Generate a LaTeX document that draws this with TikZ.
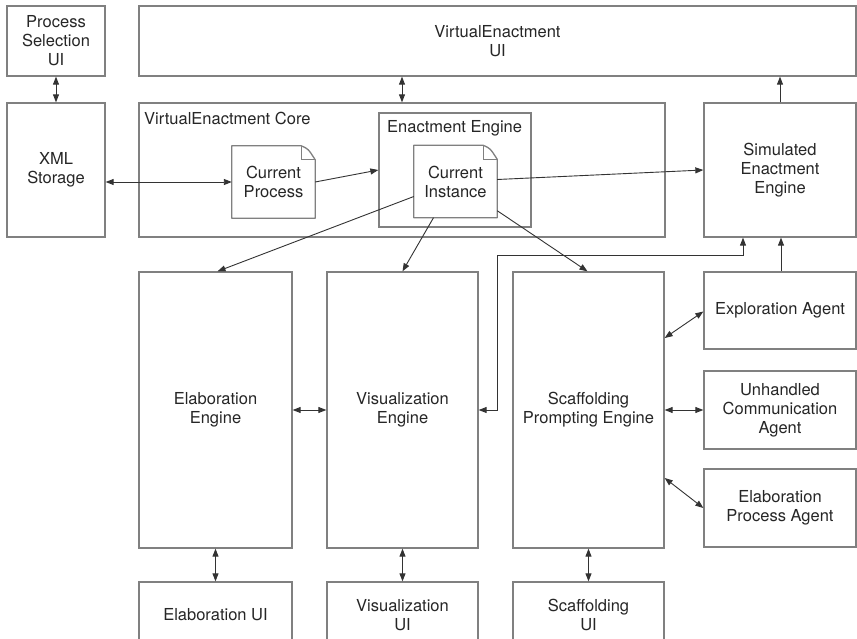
\documentclass[tikz,border=0pt]{standalone}
\usepackage{fontspec}
\setmainfont{TeX Gyre Heros}
\usetikzlibrary{arrows.meta,calc}
\begin{document}
\begin{tikzpicture}[x=1pt,y=-1pt,
  box/.style={draw=black!50,line width=1.3pt,rectangle,inner sep=0pt,align=center,
    font=\fontsize{16.5}{19}\selectfont,text=black!85},
  docnode/.style={rectangle,inner sep=0pt,align=center,
    font=\fontsize{16.5}{19}\selectfont,text=black!85,minimum width=83pt,minimum height=72pt},
  lbl/.style={inner sep=0pt,anchor=west,font=\fontsize{16.5}{19}\selectfont,text=black!85},
  arr/.style={draw=black!80,line width=0.9pt,-{Triangle[length=8pt,width=6pt]}},
  dbl/.style={draw=black!80,line width=0.9pt,{Triangle[length=8pt,width=6pt]}-{Triangle[length=8pt,width=6pt]}}
]
\useasboundingbox (0,0) rectangle (857,639);
\clip (0,0) rectangle (857,639);
\fill[white] (0,0) rectangle (857,639);

% top row
\node[box,minimum width=98pt,minimum height=70pt] (psui) at (56,41) {Process\\Selection\\UI};
\node[box,minimum width=717pt,minimum height=70pt] (veui) at (497.5,41) {VirtualEnactment\\UI};

% second row
\node[box,minimum width=98pt,minimum height=134pt] (xml) at (56,170) {XML\\Storage};
\node[box,minimum width=526pt,minimum height=134pt] (core) at (402,170) {};
\node[lbl] (corelbl) at (144,118) {VirtualEnactment Core};
\node[box,minimum width=152pt,minimum height=114pt] (ee) at (455,170) {};
\node[lbl] (eelbl) at (387,128) {Enactment Engine};
\node[box,minimum width=152pt,minimum height=134pt] (sim) at (780,170) {Simulated\\Enactment\\Engine};

% documents
\node[docnode] (cp) at (273.5,182) {Current\\Process};
\node[docnode] (ci) at (455.5,181.5) {Current\\Instance};
\foreach \d in {cp,ci}{
  \draw[draw=black!50,line width=1.3pt,fill=white,line join=round]
    (\d.north west) -- ([xshift=-14pt]\d.north east)
    .. controls ([xshift=-7pt,yshift=-3pt]\d.north east) .. ([yshift=-14pt]\d.north east)
    -- (\d.south east) -- (\d.south west) -- cycle;
  \draw[draw=black!50,line width=1.1pt]
    ([xshift=-14pt]\d.north east) -- ([xshift=-14pt,yshift=-14pt]\d.north east) -- ([yshift=-14pt]\d.north east);
}
\node[docnode] (cpt) at (cp) {Current\\Process};
\node[docnode] (cit) at (ci) {Current\\Instance};

% engines
\node[box,minimum width=153pt,minimum height=276pt] (elab) at (215.5,410) {Elaboration\\Engine};
\node[box,minimum width=151pt,minimum height=276pt] (vis) at (402.5,410) {Visualization\\Engine};
\node[box,minimum width=151pt,minimum height=276pt] (scaf) at (588.5,410) {Scaffolding\\Prompting Engine};

% agents
\node[box,minimum width=152pt,minimum height=77pt] (expl) at (780,310.5) {Exploration Agent};
\node[box,minimum width=152pt,minimum height=78pt] (unh) at (780,410) {Unhandled\\Communication\\Agent};
\node[box,minimum width=152pt,minimum height=78pt] (epa) at (780,508) {Elaboration\\Process Agent};

% bottom UIs
\node[box,minimum width=153pt,minimum height=66pt] (elabui) at (215.5,615) {Elaboration UI};
\node[box,minimum width=151pt,minimum height=66pt] (visui) at (402.5,615) {Visualization\\UI};
\node[box,minimum width=151pt,minimum height=66pt] (scafui) at (588.5,615) {Scaffolding\\UI};

% connectors
\draw[dbl] (psui.south) -- (xml.north);
\draw[dbl] (core.north |- veui.south) -- (core.north);
\draw[dbl] (cp.west -| xml.east) -- (cp.west);
\draw[arr] (cp.east) -- (ee.west);
\draw[arr] ([yshift=2pt]ci.east) -- (sim.west);
\draw[arr] ([yshift=-15pt]ci.west) -- ([xshift=2pt]elab.north);
\draw[arr] ([xshift=-22pt]ci.south) -- (vis.north);
\draw[arr] ([yshift=7pt]ci.south east) -- ([xshift=-1pt]scaf.north);
\draw[dbl] (elab.east) -- (vis.west);
\draw[dbl] (scaf.east) -- (unh.west);
\draw[dbl] ([yshift=72pt]scaf.east) -- ([yshift=-1pt]expl.west);
\draw[dbl] ([yshift=-68pt]scaf.east) -- (epa.west);
\draw[arr] ([xshift=1pt]expl.north) -- ([xshift=1pt]sim.south);
\draw[arr] (sim.north) -- (sim.north |- veui.south);
\coordinate (bend) at (497,255);
\draw[dbl] (vis.east) -| (bend) -| ([xshift=-37pt]sim.south);
\draw[dbl] (elab.south) -- (elabui.north);
\draw[dbl] (vis.south) -- (visui.north);
\draw[dbl] (scaf.south) -- (scafui.north);
\end{tikzpicture}
\end{document}
